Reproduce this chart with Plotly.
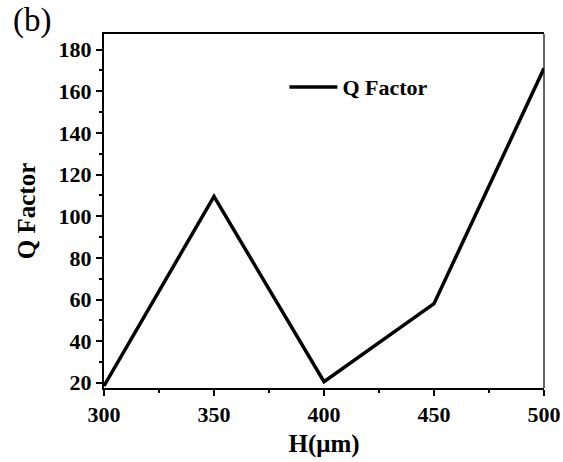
import plotly.graph_objects as go

# Cavity height (µm) and the corresponding quality factor
height_um = [300, 350, 400, 450, 500]
q_factor = [18.5, 109.5, 20.5, 58, 171]

x_ticks = [300, 350, 400, 450, 500]
y_ticks = [20, 40, 60, 80, 100, 120, 140, 160, 180]

FONT = "Liberation Serif, Times New Roman, serif"

fig = go.Figure()
fig.add_trace(go.Scatter(
    x=height_um, y=q_factor, mode="lines", name="Q Factor",
    line=dict(color="black", width=3.5),
))

fig.update_layout(
    width=563, height=462,
    margin=dict(l=104, r=19, t=34, b=74),
    paper_bgcolor="white", plot_bgcolor="white",
    font=dict(family=FONT, color="black"),
    showlegend=True,
    legend=dict(
        x=0.41, y=0.85, xanchor="left", yanchor="middle",
        bgcolor="rgba(0,0,0,0)",
        font=dict(family=FONT, size=22, color="black", weight="bold"),
        itemwidth=48,
    ),
)

fig.update_xaxes(
    range=[300, 500], tickvals=x_ticks, automargin=False,
    ticks="outside", ticklen=6, tickwidth=1.5, tickcolor="black",
    minor=dict(dtick=25, ticks="outside", ticklen=3, tickwidth=1.5, tickcolor="black"),
    showline=True, linewidth=2, linecolor="black", mirror=True,
    showgrid=False, zeroline=False,
    tickfont=dict(family=FONT, size=22, weight="bold"),
    title=dict(text="H(μm)", font=dict(family=FONT, size=25, weight="bold"), standoff=8),
)
fig.update_yaxes(
    range=[17.5, 187.5], tickvals=y_ticks, automargin=False,
    ticks="outside", ticklen=6, tickwidth=1.5, tickcolor="black",
    minor=dict(dtick=10, ticks="outside", ticklen=3, tickwidth=1.5, tickcolor="black"),
    showline=True, linewidth=2, linecolor="black",
    showgrid=False, zeroline=False,
    tickfont=dict(family=FONT, size=22, weight="bold"),
    title=dict(text="Q Factor", font=dict(family=FONT, size=25, weight="bold"), standoff=16),
)

# thin right-hand frame edge
fig.add_shape(type="line", xref="paper", yref="paper", x0=1, x1=1, y0=0, y1=1,
              line=dict(color="black", width=1.2))

# panel label
fig.add_annotation(text="(b)", xref="paper", yref="paper", x=-0.212, y=1.095,
                   xanchor="left", yanchor="top", showarrow=False,
                   font=dict(family=FONT, size=33, color="black"))

fig.write_html("out.html")
